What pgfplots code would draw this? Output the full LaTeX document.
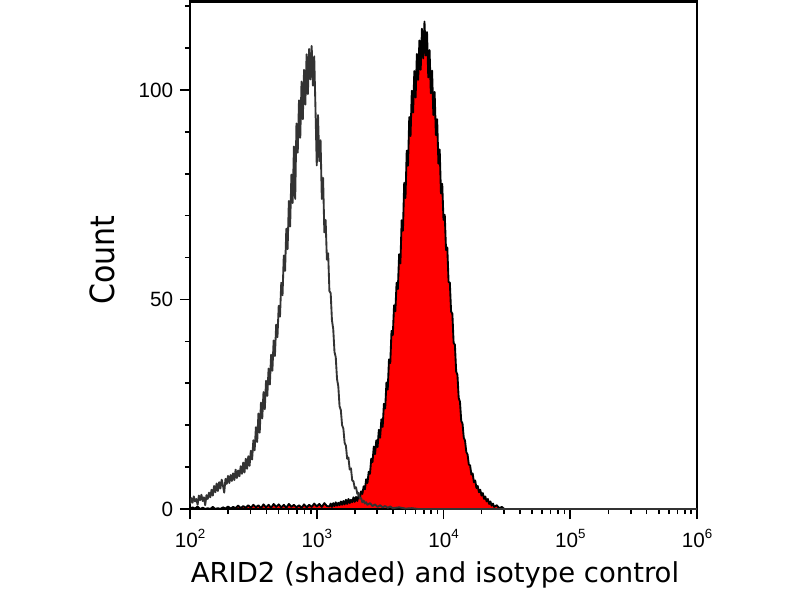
\documentclass[border=0pt]{standalone}
\usepackage{fontspec}
\setmainfont{Liberation Sans}
\newfontfamily\labelfont{DejaVu Sans}
\usepackage{graphicx}
\usepackage{pgfplots}
\pgfplotsset{compat=1.18}
\definecolor{isogray}{RGB}{51,51,51}
\newcommand\dec[1]{10\raisebox{7pt}{\fontsize{10}{11}\selectfont #1}}
\begin{document}
\begin{tikzpicture}
\useasboundingbox (-142.5pt,-68.25pt) rectangle (457.5pt,381.75pt);
\begin{axis}[
  at={(0pt,0pt)}, anchor=south west,
  scale only axis, width=380.25pt, height=380.625pt,
  xmin=2, xmax=6, ymin=0, ymax=121.1,
  xtick={2,3,4,5,6},
  xticklabels={\dec{2},\dec{3},\dec{4},\dec{5},\dec{6}},
  minor xtick={2.30103,2.47712,2.60206,2.69897,2.77815,2.84510,2.90309,2.95424,
               3.30103,3.47712,3.60206,3.69897,3.77815,3.84510,3.90309,3.95424,
               4.30103,4.47712,4.60206,4.69897,4.77815,4.84510,4.90309,4.95424,
               5.30103,5.47712,5.60206,5.69897,5.77815,5.84510,5.90309,5.95424},
  ytick={0,50,100},
  yticklabels={0,50,100},
  minor ytick={10,20,30,40,60,70,80,90,110,120},
  xtick pos=bottom, ytick pos=left,
  tick align=outside,
  major tick length=7.5pt, minor tick length=3.75pt,
  every tick/.style={black, line width=1.2pt},
  axis line style={black, line width=1.9pt},
  ticklabel style={font=\fontsize{15.5}{18}\selectfont},
  yticklabel style={inner sep=0pt, xshift=-5pt},
  xticklabel style={inner sep=0pt, yshift=-7.5pt},
  xlabel={ARID2 (shaded) and isotype control},
  ylabel={\scalebox{0.9}[1]{Count}},
  xlabel style={font=\labelfont\fontsize{20.6}{24}\selectfont, at={(axis description cs:0.4832,-0.1458)}, anchor=base},
  ylabel style={font=\labelfont\fontsize{25}{29}\selectfont, at={(axis description cs:-0.148,0.49)}, anchor=base},
]
% ARID2 (shaded)
\addplot[draw=black, fill=red, line width=1.4pt, line join=round] coordinates {
(2.00,0) (2.02,0.4) (2.04,0.1) (2.06,0.6) (2.08,0) (2.10,0.3) (2.12,0) (2.14,0.2) (2.16,0) (2.18,0.5)
(2.20,0) (2.22,0.2) (2.24,0) (2.26,0.4) (2.28,0.1) (2.30,0.6) (2.32,0.1) (2.34,0.5) (2.36,0.2) (2.38,0.8)
(2.40,0.2) (2.42,0.7) (2.44,0.3) (2.46,0.9) (2.48,0.3) (2.50,1.0) (2.52,0.4) (2.54,0.9) (2.56,0.2) (2.58,1.1)
(2.60,0.4) (2.62,1.0) (2.64,0.3) (2.66,1.2) (2.68,0.5) (2.70,1.1) (2.72,0.4) (2.74,1.0) (2.76,0.3) (2.78,1.2)
(2.80,0.5) (2.82,1.0) (2.84,0.4) (2.86,0.9) (2.88,0.3) (2.90,1.1) (2.92,0.4) (2.94,1.0) (2.96,0.5) (2.98,1.3)
(3.00,0.6) (3.02,1.2) (3.04,0.5) (3.06,1.4) (3.08,0.7)
(3.10,0.6) (3.11,1.3) (3.12,0.5) (3.13,1.4) (3.14,0.7) (3.15,1.6) (3.16,0.8) (3.17,1.5) (3.18,0.9) (3.19,1.8)
(3.20,1.0) (3.21,1.9) (3.22,1.1) (3.23,2.2) (3.24,1.2) (3.25,2.4) (3.26,1.4) (3.27,2.2) (3.28,1.6) (3.29,2.8)
(3.30,1.7) (3.31,2.9) (3.32,1.9) (3.33,3.3) (3.34,2.6) (3.35,4.2) (3.36,3.6) (3.37,5.4) (3.38,4.7) (3.39,7.1)
(3.40,6.2) (3.41,8.9) (3.42,8.4) (3.43,12.0) (3.44,11.2) (3.45,14.9) (3.46,13.1) (3.47,16.4) (3.48,14.8) (3.49,18.9)
(3.50,17.0) (3.51,21.4) (3.52,19.6) (3.53,25.1) (3.54,24.0) (3.55,30.2) (3.56,28.5) (3.57,35.7) (3.58,34.8) (3.59,42.5)
(3.60,41.5) (3.61,48.6) (3.62,47.2) (3.63,54.0) (3.64,52.5) (3.65,60.8) (3.66,58.6) (3.67,68.9) (3.68,66.4) (3.69,77.8)
(3.70,74.2) (3.71,85.5) (3.72,81.9) (3.73,93.5) (3.74,89.0) (3.75,99.8) (3.76,94.6) (3.77,104.5) (3.78,98.2) (3.79,108.6)
(3.80,102.4) (3.81,111.8) (3.82,104.8) (3.83,114.6) (3.84,107.5) (3.85,116.3) (3.86,108.2) (3.87,113.8) (3.88,103.0) (3.89,109.5)
(3.90,99.2) (3.91,104.6) (3.92,94.0) (3.93,99.5) (3.94,89.2) (3.95,93.0) (3.96,82.4) (3.97,85.8) (3.98,75.3) (3.99,77.6)
(4.00,69.0) (4.01,70.2) (4.02,61.8) (4.03,62.4) (4.04,54.2) (4.05,54.0) (4.06,47.1) (4.07,46.6) (4.08,39.6) (4.09,39.2)
(4.10,32.8) (4.11,32.0) (4.12,26.5) (4.13,25.6) (4.14,21.0) (4.15,20.4) (4.16,17.0) (4.17,16.3) (4.18,13.6) (4.19,13.0)
(4.20,10.6) (4.21,10.4) (4.22,8.2) (4.23,8.5) (4.24,6.4) (4.25,6.8) (4.26,5.0) (4.27,5.5) (4.28,4.0) (4.29,4.6)
(4.30,3.2) (4.31,3.8) (4.32,2.4) (4.33,3.0) (4.34,1.8) (4.35,2.4) (4.36,1.2) (4.37,1.8) (4.38,0.8) (4.39,1.3)
(4.40,0.5) (4.42,0.9) (4.44,0.2) (4.46,0.5) (4.48,0) (6.00,0)
} \closedcycle;
% isotype control
\addplot[isogray, line width=1.4pt, line join=round] coordinates {
(2.00,1.2) (2.01,2.6) (2.02,1.5) (2.03,3.0) (2.04,1.8) (2.05,2.4) (2.06,1.0) (2.07,3.2) (2.08,2.1) (2.09,3.4)
(2.10,1.9) (2.11,2.8) (2.12,0.9) (2.13,3.3) (2.14,2.4) (2.15,3.9) (2.16,2.8) (2.17,4.6) (2.18,3.2) (2.19,5.5)
(2.20,4.0) (2.21,6.1) (2.22,4.3) (2.23,6.4) (2.24,4.9) (2.25,7.0) (2.26,5.6) (2.27,3.9) (2.28,7.2) (2.29,6.0)
(2.30,7.9) (2.31,6.2) (2.32,8.1) (2.33,6.7) (2.34,8.5) (2.35,6.9) (2.36,9.4) (2.37,7.4) (2.38,9.2) (2.39,7.8)
(2.40,10.2) (2.41,8.4) (2.42,11.1) (2.43,8.7) (2.44,12.0) (2.45,9.6) (2.46,12.6) (2.47,10.3) (2.48,13.9) (2.49,11.8)
(2.50,16.4) (2.51,14.0) (2.52,19.5) (2.53,16.0) (2.54,22.8) (2.55,18.2) (2.56,25.4) (2.57,21.6) (2.58,27.9) (2.59,23.8)
(2.60,30.6) (2.61,27.0) (2.62,33.5) (2.63,29.7) (2.64,36.8) (2.65,33.0) (2.66,40.2) (2.67,36.5) (2.68,44.0) (2.69,41.0)
(2.70,48.5) (2.71,45.9) (2.72,54.0) (2.73,51.0) (2.74,60.5) (2.75,56.8) (2.76,66.9) (2.77,62.0) (2.78,73.5) (2.79,67.4)
(2.80,79.8) (2.81,73.0) (2.82,86.5) (2.83,74.0) (2.84,92.0) (2.85,85.0) (2.86,97.5) (2.87,88.6) (2.88,102.0) (2.89,93.0)
(2.90,104.8) (2.91,96.5) (2.92,108.5) (2.93,99.0) (2.94,109.8) (2.95,102.5) (2.96,110.5) (2.97,101.0) (2.98,108.0) (2.99,95.5)
(3.00,82.0) (3.01,94.0) (3.02,83.0) (3.03,88.0) (3.04,74.0) (3.05,79.0) (3.06,66.0) (3.07,69.0) (3.08,59.5) (3.09,61.0)
(3.10,52.0) (3.11,51.5) (3.12,45.0) (3.13,43.0) (3.14,37.5) (3.15,36.2) (3.16,31.0) (3.17,29.3) (3.18,24.5) (3.19,23.6)
(3.20,20.0) (3.21,19.2) (3.22,15.8) (3.23,15.1) (3.24,12.0) (3.25,12.3) (3.26,9.4) (3.27,9.7) (3.28,6.8) (3.29,6.6)
(3.30,4.9) (3.31,5.2) (3.32,3.6) (3.33,3.9) (3.34,2.5) (3.35,2.6) (3.36,1.6) (3.37,2.0) (3.38,1.3) (3.39,1.6)
(3.40,1.0) (3.42,1.4) (3.44,0.7) (3.46,1.1) (3.48,0.5) (3.50,0.9) (3.52,0.4) (3.54,0.7) (3.56,0.3) (3.58,0.6)
(3.60,0.2) (3.65,0.4) (3.70,0.1) (3.75,0.2) (3.80,0) (6.00,0)
};
\end{axis}
\end{tikzpicture}
\end{document}
